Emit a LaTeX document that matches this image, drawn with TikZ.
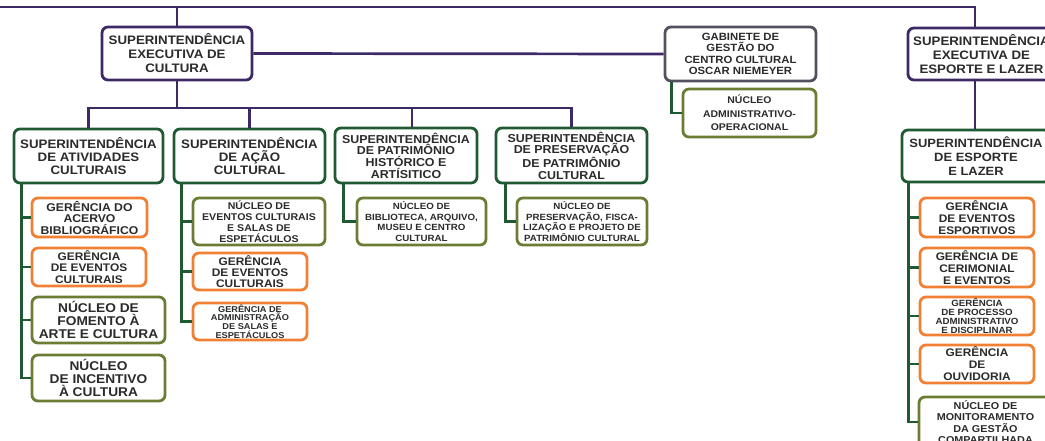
\documentclass[tikz,border=0pt]{standalone}
\usepackage{fontspec}
\newfontfamily\orgfont[FakeStretch=1.08]{Liberation Sans}
\usetikzlibrary{calc}

\definecolor{purp}{HTML}{3D2966}
\definecolor{gabc}{HTML}{55505F}
\definecolor{grn}{HTML}{1F5A32}
\definecolor{oliv}{HTML}{6B7D35}
\definecolor{orng}{HTML}{EF8034}
\definecolor{txt}{HTML}{2B2B2B}

\tikzset{
  box/.style={draw,rounded corners=6pt,line width=2.8pt,fill=white,align=center,
    text=txt,inner sep=0pt,font=\orgfont\bfseries},
  sz/.style 2 args={font=\orgfont\bfseries\fontsize{#1}{#2}\selectfont},
  topbox/.style={box,draw=purp},
  gabbox/.style={box,draw=gabc},
  supbox/.style={box,draw=grn},
  nucbox/.style={box,draw=oliv},
  gerbox/.style={box,draw=orng},
  tree/.style={purp,line width=2.7pt},
  sub/.style={grn,line width=2.7pt}
}

\begin{document}
\begin{tikzpicture}[x=1pt,y=-1pt]
  \useasboundingbox (0,0) rectangle (1045,440);
  \clip (0,0) rectangle (1045,440);
  % connectors first, boxes on top
  \coordinate (L) at (0,7);
  \coordinate (R) at (975,7);
  \coordinate (bus) at (0,108);
  % top level
  \node[topbox,minimum width=150pt,minimum height=53pt,sz={12.3}{14}] (sec) at (177,53.5)
    {SUPERINTENDÊNCIA\\EXECUTIVA DE\\CULTURA};
  \node[gabbox,minimum width=151pt,minimum height=54pt,sz={10.5}{11.5}] (gab) at (740.5,54)
    {GABINETE DE\\GESTÃO DO\\CENTRO CULTURAL\\OSCAR NIEMEYER};
  \node[topbox,minimum width=147pt,minimum height=52pt,sz={12.3}{14}] (seel) at (981.5,54)
    {SUPERINTENDÊNCIA\\EXECUTIVA DE\\ESPORTE E LAZER};
  \node[nucbox,minimum width=133pt,minimum height=48pt,sz={9.7}{13.5}] (nadm) at (749.5,113)
    {NÚCLEO\\ADMINISTRATIVO-\\OPERACIONAL};
  % superintendencias
  \node[supbox,minimum width=149pt,minimum height=54pt,sz={12.3}{13}] (ativ) at (88.5,156)
    {SUPERINTENDÊNCIA\\DE ATIVIDADES\\CULTURAIS};
  \node[supbox,minimum width=151pt,minimum height=54pt,sz={12.3}{13}] (acao) at (249.5,156)
    {SUPERINTENDÊNCIA\\DE AÇÃO\\CULTURAL};
  \node[supbox,minimum width=142pt,minimum height=55pt,sz={11.5}{11.7}] (patr) at (406,155.5)
    {SUPERINTENDÊNCIA\\DE PATRIMÔNIO\\HISTÓRICO E\\ARTÍSITICO};
  \node[supbox,minimum width=151pt,minimum height=55pt,sz={11.5}{11.7}] (pres) at (571.5,155.5)
    {SUPERINTENDÊNCIA\\DE PRESERVAÇÃO\\DE PATRIMÔNIO\\CULTURAL};
  \node[supbox,minimum width=148pt,minimum height=52pt,sz={12}{14}] (sel) at (976,156)
    {SUPERINTENDÊNCIA\\DE ESPORTE\\E LAZER};
  % atividades culturais
  \node[gerbox,minimum width=115pt,minimum height=39pt,sz={11.3}{11.5}] (acervo) at (89.5,217.5)
    {GERÊNCIA DO\\ACERVO\\BIBLIOGRÁFICO};
  \node[gerbox,minimum width=114pt,minimum height=38pt,sz={11}{11.5}] (gevc1) at (89,267)
    {GERÊNCIA\\DE EVENTOS\\CULTURAIS};
  \node[nucbox,minimum width=133pt,minimum height=46pt,sz={12.7}{13}] (fom) at (98.5,320)
    {NÚCLEO DE\\FOMENTO À\\ARTE E CULTURA};
  \node[nucbox,minimum width=133pt,minimum height=46pt,sz={12.7}{13}] (inc) at (98.5,378)
    {NÚCLEO\\DE INCENTIVO\\À CULTURA};
  % acao cultural
  \node[nucbox,minimum width=132pt,minimum height=47pt,sz={9.8}{11}] (nev) at (259,221.5)
    {NÚCLEO DE\\EVENTOS CULTURAIS\\E SALAS DE\\ESPETÁCULOS};
  \node[gerbox,minimum width=114pt,minimum height=37pt,sz={11}{11}] (gevc2) at (250,271.5)
    {GERÊNCIA\\DE EVENTOS\\CULTURAIS};
  \node[gerbox,minimum width=114pt,minimum height=37pt,sz={8.5}{8.6}] (gadm) at (250,321.5)
    {GERÊNCIA DE\\ADMINISTRAÇÃO\\DE SALAS E\\ESPETÁCULOS};
  % patrimonio
  \node[nucbox,minimum width=129pt,minimum height=47pt,sz={9}{10.8}] (bib) at (421.5,221.5)
    {NÚCLEO DE\\BIBLIOTECA, ARQUIVO,\\MUSEU E CENTRO\\CULTURAL};
  \node[nucbox,minimum width=130pt,minimum height=47pt,sz={9}{10.8}] (npres) at (582,221.5)
    {NÚCLEO DE\\PRESERVAÇÃO, FISCA-\\LIZAÇÃO E PROJETO DE\\PATRIMÔNIO CULTURAL};
  % esporte e lazer
  \node[gerbox,minimum width=114pt,minimum height=39pt,sz={11}{12}] (gesp) at (977,217.5)
    {GERÊNCIA\\DE EVENTOS\\ESPORTIVOS};
  \node[gerbox,minimum width=114pt,minimum height=39pt,sz={11}{12}] (gcer) at (977,267.5)
    {GERÊNCIA DE\\CERIMONIAL\\E EVENTOS};
  \node[gerbox,minimum width=114pt,minimum height=38pt,sz={9}{9}] (gproc) at (977,316)
    {GERÊNCIA\\DE PROCESSO\\ADMINISTRATIVO\\E DISCIPLINAR};
  \node[gerbox,minimum width=114pt,minimum height=38pt,sz={11}{12}] (gouv) at (977,364)
    {GERÊNCIA\\DE\\OUVIDORIA};
  \node[nucbox,minimum width=133pt,minimum height=50pt,sz={10}{11.5}] (nmon) at (985.5,422)
    {NÚCLEO DE\\MONITORAMENTO\\DA GESTÃO\\COMPARTILHADA};

  % purple tree
  \draw[tree] (L) -- (R) -- (R |- seel.north);
  \draw[tree] (sec.north) -- (sec.north |- L);
  \draw[tree] (sec.east) -- (gab.west);
  \draw[tree] (sec.south) -- (sec.south |- bus);
  \draw[tree] (ativ.north) -- (ativ.north |- bus) -- (pres.north |- bus) -- (pres.north);
  \draw[tree] (acao.north) -- (acao.north |- bus);
  \draw[tree] ([xshift=6pt]patr.north) -- ([xshift=6pt]patr.north |- bus);
  \draw[tree] (R |- seel.south) -- (R |- sel.north);

  % green spines
  \draw[sub] ([xshift=9pt]ativ.south west) |- (inc.west);
  \foreach \n in {acervo,gevc1,fom} \draw[sub] (\n.west) -- ++(-9,0);
  \draw[sub] ([xshift=9pt]acao.south west) |- (gadm.west);
  \foreach \n in {nev,gevc2} \draw[sub] (\n.west) -- ++(-10,0);
  \draw[sub] ([xshift=10pt]patr.south west) |- (bib.west);
  \draw[sub] ([xshift=11pt]pres.south west) |- (npres.west);
  \draw[sub] ([xshift=8pt]gab.south west) |- (nadm.west);
  \draw[sub] ([xshift=8pt]sel.south west) |- (nmon.west);
  \foreach \n in {gesp,gcer,gproc,gouv} \draw[sub] (\n.west) -- ++(-10,0);
\end{tikzpicture}
\end{document}
